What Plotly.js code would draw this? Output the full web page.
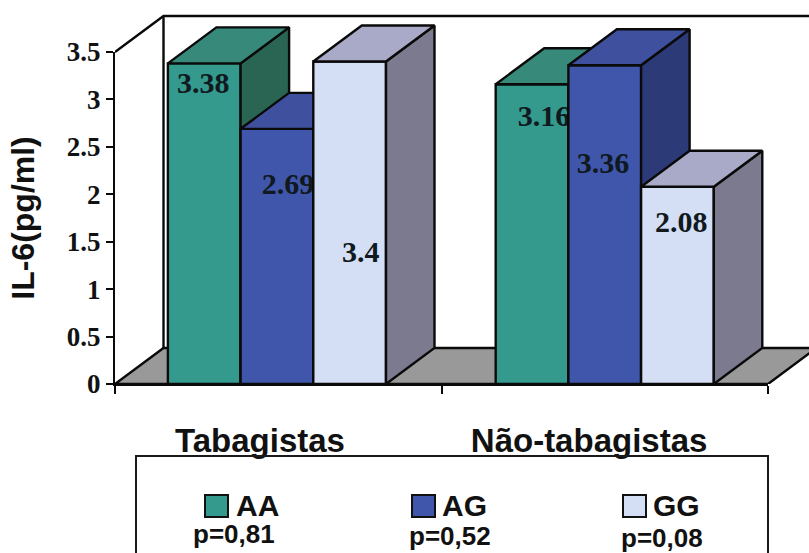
<!DOCTYPE html>
<html>
<head>
<meta charset="utf-8">
<script src="https://cdn.plot.ly/plotly-3.0.1.min.js"></script>
<style>html,body{margin:0;padding:0;background:#fff;overflow:hidden}</style>
</head>
<body>
<div id="chart" style="width:809px;height:553px"></div>
<script>
// IL-6 by genotype, smokers vs non-smokers
const groups = ['Tabagistas', 'Não-tabagistas'];
const genotypes = ['AA', 'AG', 'GG'];
const pValues = ['p=0,81', 'p=0,52', 'p=0,08'];
const valuesAA = [3.38, 3.16];
const valuesAG = [2.69, 3.36];
const valuesGG = [3.4, 2.08];
const yTicks = [0, 0.5, 1, 1.5, 2, 2.5, 3, 3.5];
const yTickText = ['0', '0.5', '1', '1.5', '2', '2.5', '3', '3.5'];

const frontColors = ['#339a8d', '#3f56aa', '#d4dff5'];
const topColors = ['#37897a', '#3f509e', '#a8aac8'];
const sideColors = ['#2a6452', '#2c3b78', '#7b7a8f'];

// Canvas, drawing area and the scale of one axis unit, in pixels
const W = 809, H = 553, L = 115, T = 10, B = 169;
const areaW = W - L, areaH = H - T - B;
const unitX = 326.5, unitY = 94.86;
const xMax = 2, yMax = 3.5;
const xFull = areaW / unitX, yFull = areaH / unitY;

// Oblique depth of the 3D box and column width, in axis units
const dx = 48.5 / unitX, dy = 36 / unitY;
const barWidth = 72.7 / unitX;
const groupCenters = [0.496, 1.5];

// Hand-placed value labels, per series and group
const labelX = [[0.27, 1.314], [0.53, 1.495], [0.753, 1.734]];
const labelY = [[3.15, 2.80], [2.08, 2.30], [1.37, 1.68]];

const px = x => (x - L) / areaW;
const py = y => (H - B - y) / areaH;

const lineStyle = {color: '#0a0a0a', width: 2.4};
const traces = [];

function poly(xs, ys, fill, axes) {
  traces.push(Object.assign({
    type: 'scatter', mode: 'lines', x: xs, y: ys, fill: 'toself', fillcolor: fill,
    line: lineStyle, hoverinfo: 'skip', showlegend: false
  }, axes));
}

// Empty trace that keeps the visible axes on their own subplot
traces.push({type: 'scatter', mode: 'none', x: [null], y: [null], xaxis: 'x', yaxis: 'y', showlegend: false, hoverinfo: 'skip'});

// Floor and walls
const base = {xaxis: 'x2', yaxis: 'y2'};
poly([0, dx, xMax + dx, xMax, 0], [0, dy, dy, 0, 0], '#999999', base);
traces.push(Object.assign({
  type: 'scatter', mode: 'lines',
  x: [0, dx, xFull, null, dx, dx],
  y: [yMax, yMax + dy, yMax + dy, null, yMax + dy, dy],
  line: lineStyle, hoverinfo: 'skip', showlegend: false
}, base));

// One overlaid subplot per genotype, so later columns hide earlier ones
[valuesAA, valuesAG, valuesGG].forEach((vals, s) => {
  const n = s + 3;
  const axes = {xaxis: 'x' + n, yaxis: 'y' + n};
  const xs = groupCenters.map(c => c + (s - 1) * barWidth);
  traces.push(Object.assign({
    type: 'bar', name: genotypes[s], x: xs, y: vals,
    width: xs.map(() => barWidth),
    marker: {color: frontColors[s], line: lineStyle},
    showlegend: false, hoverinfo: 'x+y'
  }, axes));
  xs.forEach((c, i) => {
    const xl = c - barWidth / 2, xr = c + barWidth / 2, v = vals[i];
    poly([xr, xr + dx, xr + dx, xr, xr], [v, v + dy, dy, 0, v], sideColors[s], axes);
    poly([xl, xl + dx, xr + dx, xr, xl], [v, v + dy, v + dy, v, v], topColors[s], axes);
  });
  traces.push(Object.assign({
    type: 'scatter', mode: 'text', x: labelX[s], y: labelY[s],
    text: vals.map(String), textposition: 'middle center',
    textfont: {family: 'Liberation Serif', size: 30, color: '#101820', weight: 700},
    hoverinfo: 'skip', showlegend: false
  }, axes));
});

// Category names sit left of the group centres
const groupLabelX = [0.444, 1.452];

const layout = {
  width: W, height: H, autosize: false,
  margin: {l: L, r: 0, t: T, b: B},
  paper_bgcolor: '#fff', plot_bgcolor: 'rgba(0,0,0,0)',
  showlegend: false,
  xaxis: {
    domain: [0, xMax * unitX / areaW], anchor: 'y',
    range: [0, xMax], showgrid: false, zeroline: false, showline: true,
    linecolor: '#0a0a0a', linewidth: 2,
    tickmode: 'array', tickvals: groupLabelX, ticktext: groups, ticks: '',
    ticklabelstandoff: 26,
    tickfont: {family: 'Liberation Sans', size: 33, color: '#111', weight: 700},
    minor: {tickmode: 'array', tickvals: [0, 1, 2], ticks: 'outside', ticklen: 8, tickwidth: 2, tickcolor: '#0a0a0a', showgrid: false}
  },
  yaxis: {
    domain: [0, yMax * unitY / areaH], anchor: 'x',
    range: [0, yMax], showgrid: false, zeroline: false, showline: true,
    linecolor: '#0a0a0a', linewidth: 2,
    tickmode: 'array', tickvals: yTicks, ticktext: yTickText,
    ticks: 'outside', ticklen: 7, tickwidth: 2, tickcolor: '#0a0a0a',
    tickfont: {family: 'Liberation Serif', size: 27, color: '#111', weight: 700},
    title: {text: 'IL-6(pg/ml)', standoff: 23, font: {family: 'Liberation Sans', size: 32, color: '#111', weight: 700}}
  },
  xaxis2: {domain: [0, 1], anchor: 'y2', range: [0, xFull], visible: false},
  yaxis2: {domain: [0, 1], anchor: 'x2', range: [0, yFull], visible: false},
  shapes: [],
  annotations: []
};

[3, 4, 5].forEach(n => {
  layout['xaxis' + n] = {overlaying: 'x2', anchor: 'y' + n, range: [0, xFull], visible: false};
  layout['yaxis' + n] = {overlaying: 'y2', anchor: 'x' + n, range: [0, yFull], visible: false};
});

// Legend: open-bottomed frame, swatches, names and p-values
layout.shapes.push({
  type: 'path', xref: 'paper', yref: 'paper',
  path: `M ${px(136)} ${py(553)} L ${px(136)} ${py(456)} L ${px(768)} ${py(456)} L ${px(768)} ${py(553)}`,
  line: {color: '#1a1a1a', width: 2}
});
const swatchLeft = [205, 412, 623];
const nameLeft = [235, 441, 652];
const pCentre = [234, 450, 662];
const pMiddle = [534, 536, 538];
genotypes.forEach((g, i) => {
  layout.shapes.push({
    type: 'rect', xref: 'paper', yref: 'paper',
    x0: px(swatchLeft[i]), x1: px(swatchLeft[i] + 23), y0: py(517), y1: py(495),
    fillcolor: frontColors[i], line: {color: '#111', width: 2}
  });
  layout.annotations.push({
    xref: 'paper', yref: 'paper', x: px(nameLeft[i]), y: py(505), xanchor: 'left', yanchor: 'middle',
    text: g, showarrow: false, borderpad: 0,
    font: {family: 'Liberation Sans', size: 30, color: '#111', weight: 700}
  });
  layout.annotations.push({
    xref: 'paper', yref: 'paper', x: px(pCentre[i]), y: py(pMiddle[i]), xanchor: 'center', yanchor: 'middle',
    text: pValues[i], showarrow: false, borderpad: 0,
    font: {family: 'Liberation Sans', size: 26, color: '#111', weight: 700}
  });
});

Plotly.newPlot('chart', traces, layout, {displayModeBar: false, responsive: false});
</script>
</body>
</html>
